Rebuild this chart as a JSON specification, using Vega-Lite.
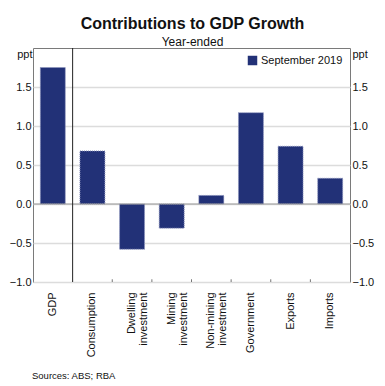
{
  "$schema": "https://vega.github.io/schema/vega-lite/v6.json",
  "autosize": {"type": "none"},
  "padding": {"left": 33, "top": 48, "right": 35, "bottom": 104},
  "width": 317,
  "height": 234,
  "config": {
    "font": "Liberation Sans",
    "view": {"stroke": "#7a7a7a", "strokeWidth": 1},
    "axis": {"labelFont": "Liberation Sans", "labelFontSize": 11, "labelColor": "#111", "titleFont": "Liberation Sans", "titleColor": "#111", "titleFontWeight": "normal"}
  },
  "datasets": {
    "bars": [
      {"category": "GDP", "value": 1.75, "series": "September 2019"},
      {"category": "Consumption", "value": 0.68, "series": "September 2019"},
      {"category": "Dwelling investment", "value": -0.58, "series": "September 2019"},
      {"category": "Mining investment", "value": -0.31, "series": "September 2019"},
      {"category": "Non-mining investment", "value": 0.11, "series": "September 2019"},
      {"category": "Government", "value": 1.17, "series": "September 2019"},
      {"category": "Exports", "value": 0.74, "series": "September 2019"},
      {"category": "Imports", "value": 0.33, "series": "September 2019"}
    ],
    "divider": [{"category": "Consumption"}],
    "ticks": [
      {"category": "Dwelling investment"},
      {"category": "Mining investment"},
      {"category": "Non-mining investment"},
      {"category": "Government"},
      {"category": "Exports"},
      {"category": "Imports"}
    ],
    "zero": [{"value": 0}]
  },
  "layer": [
    {
      "data": {"name": "bars"},
      "mark": {"type": "bar", "width": {"band": 0.63}, "stroke": "#8c93bd", "strokeWidth": 1, "strokeDash": [1, 1]},
      "encoding": {
        "x": {
          "field": "category", "type": "nominal",
          "scale": {"domain": ["GDP", "Consumption", "Dwelling investment", "Mining investment", "Non-mining investment", "Government", "Exports", "Imports"], "paddingInner": 0, "paddingOuter": 0},
          "axis": {
            "orient": "bottom",
            "title": "Sources: ABS; RBA",
            "titleX": -1.5, "titleY": 96, "titleAlign": "left", "titleBaseline": "alphabetic", "titleAnchor": "start", "titleFontSize": 9.5,
            "labelAngle": -90, "labelAlign": "right", "labelBaseline": "middle",
            "labelExpr": "split(datum.value, ' ')",
            "labelPadding": 10, "labelLineHeight": 12,
            "domain": false, "ticks": false, "grid": false
          }
        },
        "y": {
          "field": "value", "type": "quantitative",
          "scale": {"domain": [-1, 2], "nice": false},
          "axis": {
            "orient": "left", "values": [-1, -0.5, 0, 0.5, 1, 1.5], "format": ".1f",
            "title": "ppt", "titleAngle": 0, "titleX": -1, "titleY": 9, "titleAlign": "right", "titleBaseline": "alphabetic", "titleFontSize": 11,
            "ticks": false, "domain": false, "labelPadding": 2,
            "grid": true, "gridColor": "#dcdcdc", "gridWidth": 1.5
          }
        },
        "color": {
          "field": "series", "type": "nominal",
          "scale": {"range": ["#223177"]},
          "legend": {"title": null, "orient": "top-right", "offset": 7, "padding": 0, "symbolType": "square", "symbolSize": 90, "symbolStrokeWidth": 0, "labelFontSize": 11, "labelFont": "Liberation Sans", "labelColor": "#111", "labelOffset": 3}
        }
      }
    },
    {
      "data": {"name": "bars"},
      "mark": {"type": "bar", "opacity": 0},
      "encoding": {
        "y": {
          "field": "value", "type": "quantitative",
          "axis": {
            "orient": "right", "values": [-1, -0.5, 0, 0.5, 1, 1.5], "format": ".1f",
            "title": "ppt", "titleAngle": 0, "titleX": 2, "titleY": 9, "titleAlign": "left", "titleBaseline": "alphabetic", "titleFontSize": 11,
            "ticks": false, "domain": false, "labelPadding": 2, "grid": false
          }
        }
      }
    },
    {
      "data": {"name": "zero"},
      "mark": {"type": "rule", "color": "#999", "strokeWidth": 1},
      "encoding": {"y": {"field": "value", "type": "quantitative", "axis": null}}
    },
    {
      "data": {"name": "ticks"},
      "mark": {"type": "rule", "color": "#777", "strokeWidth": 1},
      "encoding": {
        "x": {
          "field": "category", "type": "nominal", "bandPosition": 0,
          "axis": {
            "orient": "top", "title": "Year-ended", "labels": false, "ticks": false, "domain": false, "grid": false,
            "titleX": 159, "titleY": -3, "titleAlign": "center", "titleAnchor": "middle", "titleBaseline": "alphabetic", "titleFontSize": 12
          }
        },
        "y": {"datum": -1, "type": "quantitative", "axis": null},
        "y2": {"datum": -0.965}
      }
    },
    {
      "data": {"name": "divider"},
      "mark": {"type": "rule", "color": "#222", "strokeWidth": 1},
      "encoding": {
        "x": {
          "field": "category", "type": "nominal", "bandPosition": 0,
          "axis": {
            "orient": "top", "title": "Contributions to GDP Growth", "labels": false, "ticks": false, "domain": false, "grid": false,
            "titleX": 159, "titleY": -20, "titleAlign": "center", "titleAnchor": "middle", "titleBaseline": "alphabetic", "titleFontSize": 16, "titleFontWeight": "bold"
          }
        }
      }
    }
  ],
  "resolve": {"axis": {"y": "independent", "x": "independent"}}
}
